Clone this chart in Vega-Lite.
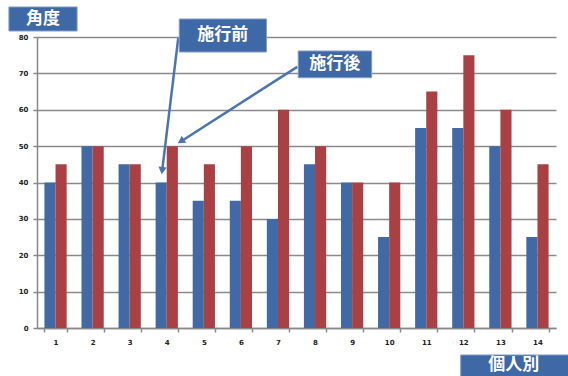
{
  "$schema": "https://vega.github.io/schema/vega-lite/v6.json",
  "autosize": "none",
  "width": 519,
  "height": 291,
  "padding": {"left": 37, "top": 37, "right": 12, "bottom": 48},
  "background": "white",
  "config": {"view": {"stroke": null}},
  "datasets": {
    "bars": [
      {"n": 1, "series": "施行前", "value": 40}, {"n": 1, "series": "施行後", "value": 45},
      {"n": 2, "series": "施行前", "value": 50}, {"n": 2, "series": "施行後", "value": 50},
      {"n": 3, "series": "施行前", "value": 45}, {"n": 3, "series": "施行後", "value": 45},
      {"n": 4, "series": "施行前", "value": 40}, {"n": 4, "series": "施行後", "value": 50},
      {"n": 5, "series": "施行前", "value": 35}, {"n": 5, "series": "施行後", "value": 45},
      {"n": 6, "series": "施行前", "value": 35}, {"n": 6, "series": "施行後", "value": 50},
      {"n": 7, "series": "施行前", "value": 30}, {"n": 7, "series": "施行後", "value": 60},
      {"n": 8, "series": "施行前", "value": 45}, {"n": 8, "series": "施行後", "value": 50},
      {"n": 9, "series": "施行前", "value": 40}, {"n": 9, "series": "施行後", "value": 40},
      {"n": 10, "series": "施行前", "value": 25}, {"n": 10, "series": "施行後", "value": 40},
      {"n": 11, "series": "施行前", "value": 55}, {"n": 11, "series": "施行後", "value": 65},
      {"n": 12, "series": "施行前", "value": 55}, {"n": 12, "series": "施行後", "value": 75},
      {"n": 13, "series": "施行前", "value": 50}, {"n": 13, "series": "施行後", "value": 60},
      {"n": 14, "series": "施行前", "value": 25}, {"n": 14, "series": "施行後", "value": 45}
    ],
    "boxes": [
      {"label": "角度", "x1": -0.757, "x2": 1.081, "y1": 88.25, "y2": 81.65, "tx": 0.162, "ty": 84.95},
      {"label": "施行前", "x1": 3.838, "x2": 6.189, "y1": 84.95, "y2": 75.88, "tx": 5.01, "ty": 80.5},
      {"label": "施行後", "x1": 7.046, "x2": 9.027, "y1": 76.15, "y2": 68.81, "tx": 8.03, "ty": 72.5},
      {"label": "個人別", "x1": 11.43, "x2": 14.4, "y1": -7.42, "y2": -13.4, "tx": 12.86, "ty": -10.3}
    ],
    "arrows": [
      {"x1": 3.81, "y1": 79.7, "x2": 3.375, "y2": 43.2},
      {"x1": 7.02, "y1": 71.8, "x2": 3.87, "y2": 51.2}
    ]
  },
  "resolve": {"scale": {"x": "independent", "y": "independent"}},
  "layer": [
    {
      "data": {"name": "bars"},
      "mark": {"type": "bar"},
      "encoding": {
        "x": {
          "field": "n", "type": "ordinal",
          "scale": {"paddingInner": 0.4, "paddingOuter": 0.2},
          "axis": {
            "title": null, "labelAngle": 0, "tickBand": "extent",
            "domainColor": "#888888", "domainWidth": 1.5,
            "tickColor": "#888888", "tickWidth": 1.5, "tickSize": 4,
            "labelFont": "DejaVu Sans", "labelFontSize": 7, "labelFontWeight": "bold",
            "labelColor": "#222222", "labelPadding": 6
          }
        },
        "xOffset": {"field": "series", "type": "nominal", "sort": ["施行前", "施行後"]},
        "y": {
          "field": "value", "type": "quantitative",
          "scale": {"domain": [0, 80], "nice": false},
          "axis": {
            "title": null, "values": [0, 10, 20, 30, 40, 50, 60, 70, 80],
            "grid": true, "gridColor": "#8a8a8a", "gridWidth": 1.5,
            "domainColor": "#888888", "domainWidth": 1.5,
            "tickColor": "#888888", "tickWidth": 1.5, "tickSize": 4,
            "labelFont": "DejaVu Sans", "labelFontSize": 7, "labelFontWeight": "bold",
            "labelColor": "#222222", "labelPadding": 5
          }
        },
        "color": {
          "field": "series", "type": "nominal",
          "scale": {"domain": ["施行前", "施行後"], "range": ["#4169A6", "#A84044"]},
          "legend": null
        }
      }
    },
    {
      "data": {"name": "arrows"},
      "mark": {"type": "rule", "color": "#4A74B2", "strokeWidth": 2.5},
      "encoding": {
        "x": {"field": "x1", "type": "quantitative", "scale": {"domain": [0, 14], "nice": false, "zero": false}, "axis": null},
        "y": {"field": "y1", "type": "quantitative", "scale": {"domain": [0, 80], "nice": false, "zero": false}, "axis": null},
        "x2": {"field": "x2"},
        "y2": {"field": "y2"}
      }
    },
    {
      "data": {"values": [{"x": 3.38, "y": 43.6}]},
      "mark": {"type": "point", "shape": "triangle", "filled": true, "color": "#4A74B2", "size": 70, "angle": 187, "opacity": 1},
      "encoding": {
        "x": {"field": "x", "type": "quantitative", "scale": {"domain": [0, 14], "nice": false, "zero": false}, "axis": null},
        "y": {"field": "y", "type": "quantitative", "scale": {"domain": [0, 80], "nice": false, "zero": false}, "axis": null}
      }
    },
    {
      "data": {"values": [{"x": 3.91, "y": 51.5}]},
      "mark": {"type": "point", "shape": "triangle", "filled": true, "color": "#4A74B2", "size": 70, "angle": 237, "opacity": 1},
      "encoding": {
        "x": {"field": "x", "type": "quantitative", "scale": {"domain": [0, 14], "nice": false, "zero": false}, "axis": null},
        "y": {"field": "y", "type": "quantitative", "scale": {"domain": [0, 80], "nice": false, "zero": false}, "axis": null}
      }
    },
    {
      "data": {"name": "boxes"},
      "mark": {"type": "rect", "fill": "#3E68A6", "stroke": "#7f9cc8", "strokeWidth": 1},
      "encoding": {
        "x": {"field": "x1", "type": "quantitative", "scale": {"domain": [0, 14], "nice": false, "zero": false}, "axis": null},
        "x2": {"field": "x2"},
        "y": {"field": "y1", "type": "quantitative", "scale": {"domain": [0, 80], "nice": false, "zero": false}, "axis": null},
        "y2": {"field": "y2"}
      }
    },
    {
      "data": {"name": "boxes"},
      "mark": {"type": "text", "color": "white", "font": "Noto Sans CJK JP", "fontWeight": "bold", "fontSize": 17, "align": "center", "baseline": "middle"},
      "encoding": {
        "x": {"field": "tx", "type": "quantitative", "scale": {"domain": [0, 14], "nice": false, "zero": false}, "axis": null},
        "y": {"field": "ty", "type": "quantitative", "scale": {"domain": [0, 80], "nice": false, "zero": false}, "axis": null},
        "text": {"field": "label"}
      }
    }
  ]
}
